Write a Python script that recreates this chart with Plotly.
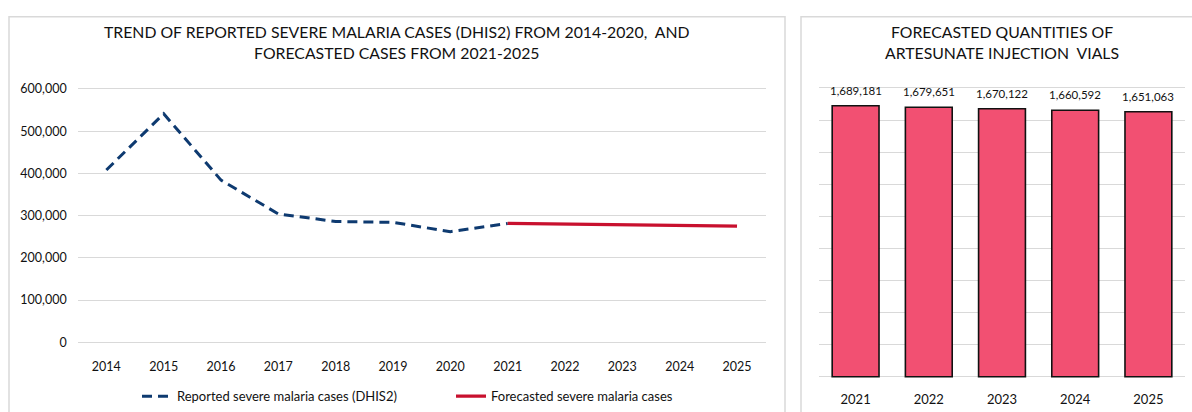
import plotly.graph_objects as go

# Line chart data: reported (DHIS2) and forecasted severe malaria cases
years = ["2014", "2015", "2016", "2017", "2018", "2019", "2020",
         "2021", "2022", "2023", "2024", "2025"]
reported_years = ["2014", "2015", "2016", "2017", "2018", "2019", "2020", "2021"]
reported_cases = [408000, 541000, 384000, 304000, 286000, 284000, 262000, 281500]
forecast_years = ["2021", "2022", "2023", "2024", "2025"]
forecast_cases = [281500, 279900, 278300, 276800, 275200]

# Bar chart data: forecasted artesunate injection vials
vial_years = ["2021", "2022", "2023", "2024", "2025"]
vial_quantities = [1689181, 1679651, 1670122, 1660592, 1651063]

W, H = 1192, 412
FONT = "Lato"
GRID = "#D9D9D9"
TEXT = "#111111"


def px_x(x):
    return x / W


def px_y(y):
    return 1 - y / H


fig = go.Figure()

fig.add_trace(go.Scatter(
    x=reported_years, y=reported_cases, mode="lines",
    name="Reported severe malaria cases (DHIS2)",
    line=dict(color="#0E3A70", width=3, dash="10px,6px"),
    xaxis="x", yaxis="y",
))
fig.add_trace(go.Scatter(
    x=forecast_years, y=forecast_cases, mode="lines",
    name="Forecasted severe malaria cases",
    line=dict(color="#C8102E", width=3.2),
    xaxis="x", yaxis="y",
))
fig.add_trace(go.Bar(
    x=vial_years, y=vial_quantities,
    marker=dict(color="#F25072", line=dict(color="#111111", width=1.6)),
    width=0.64, showlegend=False,
    xaxis="x2", yaxis="y2",
))

# Value labels above each bar (category axis -> positioned by category index)
bar_labels = [
    dict(x=i, y=q, xref="x2", yref="y2", text=f"{q:,}", showarrow=False,
         xanchor="center", yanchor="bottom", yshift=7,
         font=dict(size=11.5, color=TEXT))
    for i, q in enumerate(vial_quantities)
]

# Ranges are padded by ~2px so the gridlines at both ends are still drawn
fig.update_layout(
    width=W, height=H,
    margin=dict(l=0, r=0, t=0, b=0),
    paper_bgcolor="white", plot_bgcolor="white",
    font=dict(family=FONT, color=TEXT),
    xaxis=dict(
        domain=[px_x(77.7), px_x(765.7)], type="category",
        categoryorder="array", categoryarray=years,
        range=[-0.5, 11.5], showgrid=False, showline=False, zeroline=False,
        ticks="", ticklabelstandoff=13,
        tickfont=dict(size=12.5, color=TEXT), anchor="y",
    ),
    yaxis=dict(
        domain=[px_y(347.9), px_y(83.8)], range=[-5000, 605000], dtick=100000,
        tickformat=",", showgrid=True, gridcolor=GRID, gridwidth=1.3,
        zeroline=False, showline=False, ticks="", ticklabelstandoff=10,
        tickfont=dict(size=12.5, color=TEXT), anchor="x",
    ),
    xaxis2=dict(
        domain=[px_x(819), px_x(1185)], type="category",
        categoryorder="array", categoryarray=vial_years,
        range=[-0.5, 4.5], showgrid=False, showline=False, zeroline=False,
        ticks="", ticklabelstandoff=11,
        tickfont=dict(size=13, color=TEXT), anchor="y2",
    ),
    yaxis2=dict(
        domain=[px_y(383.5), px_y(82.5)], range=[-15000, 1815000], dtick=200000,
        showticklabels=False, showgrid=True, gridcolor=GRID, gridwidth=1.3,
        zeroline=False, showline=False, ticks="", anchor="x2",
    ),
    legend=dict(
        orientation="h", x=px_x(137), y=px_y(401), xanchor="left",
        yanchor="middle", font=dict(size=13, color=TEXT),
        bgcolor="rgba(0,0,0,0)", entrywidth=269, entrywidthmode="pixels",
    ),
    shapes=[
        dict(type="rect", xref="paper", yref="paper",
             x0=px_x(9), x1=px_x(785), y0=-0.1, y1=px_y(12),
             line=dict(color=GRID, width=1.5), fillcolor="rgba(0,0,0,0)",
             layer="below"),
        dict(type="rect", xref="paper", yref="paper",
             x0=px_x(801), x1=1.1, y0=-0.1, y1=px_y(12),
             line=dict(color=GRID, width=1.5), fillcolor="rgba(0,0,0,0)",
             layer="below"),
    ],
    annotations=[
        dict(text="TREND OF REPORTED SEVERE MALARIA CASES (DHIS2) FROM 2014-2020,  AND<br>"
                  "FORECASTED CASES FROM 2021-2025",
             xref="paper", yref="paper", x=px_x(397), y=px_y(38),
             xanchor="center", yanchor="middle", showarrow=False,
             font=dict(size=15.8, color=TEXT), align="center"),
        dict(text="FORECASTED QUANTITIES OF<br>ARTESUNATE INJECTION  VIALS",
             xref="paper", yref="paper", x=px_x(1002), y=px_y(38),
             xanchor="center", yanchor="middle", showarrow=False,
             font=dict(size=15.8, color=TEXT), align="center"),
    ] + bar_labels,
)

fig.write_html("out.html")
